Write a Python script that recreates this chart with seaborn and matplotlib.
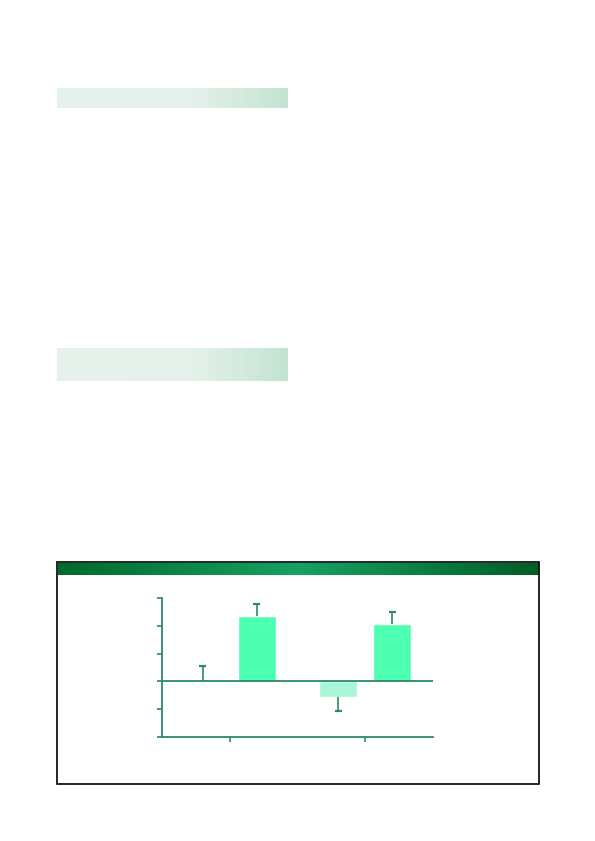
import numpy as np
import pandas as pd
import matplotlib
matplotlib.use("Agg")
import matplotlib.pyplot as plt
import seaborn as sns
from matplotlib.colors import LinearSegmentedColormap
from matplotlib.patches import Rectangle

# -----------------------------
# Data
# -----------------------------
groups = ["Group 1", "Group 2"]
series = ["Light", "Dark"]
light_values = [0.02, -0.57]
dark_values = [2.37, 2.05]
light_errors = [0.52, 0.51]
dark_errors = [0.40, 0.43]
y_ticks = [-2, -1, 0, 1, 2, 3]

df = pd.DataFrame({
    "group": groups * 2,
    "series": [series[0]] * 2 + [series[1]] * 2,
    "value": light_values + dark_values,
    "err": light_errors + dark_errors,
})

axis_col = "#2a8a66"
palette = {"Light": "#a8f5d8", "Dark": "#4dffb0"}

sns.set_style("white")
fig = plt.figure(figsize=(5.95, 8.41), dpi=100)
W, H = 595, 841


def fig_axes(x0, y0, x1, y1):
    # pixel box (top-left origin) -> figure axes
    return fig.add_axes([x0 / W, 1 - y1 / H, (x1 - x0) / W, (y1 - y0) / H])


# -----------------------------
# Pale gradient boxes at top
# -----------------------------
box_cmap = LinearSegmentedColormap.from_list(
    "box", [(0, "#e6f2ec"), (0.6, "#e4f1ea"), (1, "#c2e3d0")])
for (y0, y1) in [(88, 108), (348, 381)]:
    bax = fig_axes(57, y0, 288, y1)
    bax.imshow(np.linspace(0, 1, 256)[None, :], aspect="auto", cmap=box_cmap)
    bax.axis("off")

# -----------------------------
# Chart frame and green header
# -----------------------------
fig.patches.append(Rectangle((57 / W, 1 - 784 / H), 482 / W, 222 / H,
                             transform=fig.transFigure, fill=False,
                             edgecolor="black", lw=1.2))
head_cmap = LinearSegmentedColormap.from_list(
    "head", [(0, "#006a2c"), (0.5, "#17a262"), (1, "#005e26")])
hax = fig_axes(57.5, 562.5, 538.5, 575)
hax.imshow(np.linspace(0, 1, 256)[None, :], aspect="auto", cmap=head_cmap)
hax.axis("off")

# -----------------------------
# Bar chart
# -----------------------------
ax = fig_axes(162, 598, 433, 737)
sns.barplot(data=df, x="group", y="value", hue="series", palette=palette,
            hue_order=series, order=groups, width=0.8, gap=0.3,
            saturation=1, errorbar=None, legend=False, ax=ax)

# one-sided error bars from the bar ends (stem + single cap)
cap_half = 0.026
for bar, (_, row) in zip(ax.patches, df.iterrows()):
    xc = bar.get_x() + bar.get_width() / 2
    v = row["value"]
    end = v + row["err"] if v >= 0 else v - row["err"]
    ax.vlines(xc, v, end, color=axis_col, lw=1.2)
    ax.hlines(end, xc - cap_half, xc + cap_half, color=axis_col, lw=1.6)

ax.axhline(0, color=axis_col, lw=1.3)
ax.set_xlim(-0.5, 1.5)
ax.set_ylim(-2, 3)
ax.set_yticks(y_ticks)
ax.set_yticklabels([])
ax.set_xticks(range(len(groups)))
ax.set_xticklabels([])
ax.set_xlabel("")
ax.set_ylabel("")
ax.tick_params(axis="both", length=3.5, width=1.2, color=axis_col,
               direction="out", bottom=True, left=True)
sns.despine(ax=ax)
for s in ["left", "bottom"]:
    ax.spines[s].set_color(axis_col)
    ax.spines[s].set_linewidth(1.3)
ax.patch.set_alpha(0)

fig.savefig("out.png", dpi=100)
plt.close()
